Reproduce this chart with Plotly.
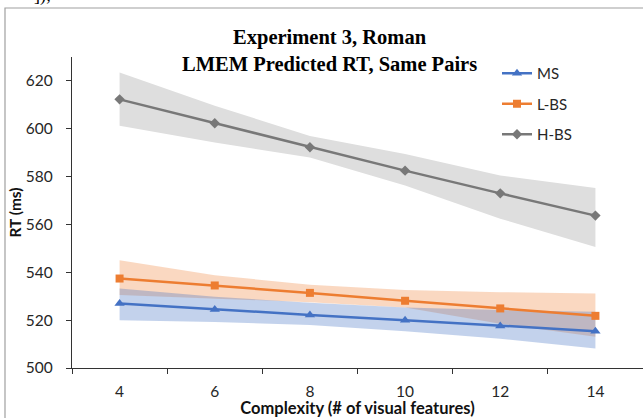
import plotly.graph_objects as go

complexity = [4, 6, 8, 10, 12, 14]

ms_rt = [527.0, 524.5, 522.2, 520.0, 517.6, 515.4]
ms_upper = [533.2, 529.8, 527.3, 525.3, 524.2, 523.5]
ms_lower = [520.0, 519.2, 518.0, 515.4, 512.2, 508.2]

lbs_rt = [537.4, 534.5, 531.4, 528.1, 524.9, 521.8]
lbs_upper = [545.0, 538.8, 534.8, 532.6, 531.7, 531.1]
lbs_lower = [530.5, 529.1, 527.5, 525.3, 518.5, 513.1]

hbs_rt = [612.3, 602.3, 592.3, 582.5, 573.0, 563.7]
hbs_upper = [623.5, 609.6, 597.0, 589.5, 580.5, 575.2]
hbs_lower = [601.3, 594.3, 588.0, 576.3, 562.4, 550.6]

y_ticks = [500, 520, 540, 560, 580, 600, 620]
x_ticks = [4, 6, 8, 10, 12, 14]
x_between = [3, 5, 7, 9, 11, 13]

W, H = 643, 418
L, R, T, B = 72, 0, 57, 50
pw, ph = W - L - R, H - T - B

def px(x):
    return (x - L) / pw

def py(y):
    return (H - B - y) / ph

fig = go.Figure()

def band(lower, upper, color):
    fig.add_trace(go.Scatter(x=complexity, y=lower, mode="lines", line=dict(width=0),
                             showlegend=False, hoverinfo="skip"))
    fig.add_trace(go.Scatter(x=complexity, y=upper, mode="lines", line=dict(width=0),
                             fill="tonexty", fillcolor=color, showlegend=False, hoverinfo="skip"))

band(hbs_lower, hbs_upper, "rgb(222,222,222)")
band(lbs_lower, lbs_upper, "rgba(237,125,49,0.30)")
band(ms_lower, ms_upper, "rgba(68,114,196,0.32)")

fig.add_trace(go.Scatter(x=complexity, y=hbs_rt, mode="lines+markers", name="H-BS",
                         legendgroup="c", legendrank=3,
                         line=dict(color="#787878", width=2.5),
                         marker=dict(symbol="diamond", size=8, color="#787878")))
fig.add_trace(go.Scatter(x=complexity, y=lbs_rt, mode="lines+markers", name="L-BS",
                         legendgroup="b", legendrank=2,
                         line=dict(color="#ED7D31", width=2.5),
                         marker=dict(symbol="square", size=8, color="#ED7D31")))
fig.add_trace(go.Scatter(x=complexity, y=ms_rt, mode="lines+markers", name="MS",
                         legendgroup="a", legendrank=1,
                         line=dict(color="#4472C4", width=2.5),
                         marker=dict(symbol="triangle-up", size=9, color="#4472C4")))

tick_font = dict(family="Lato", size=15.5, color="#262626")

fig.update_layout(
    width=W, height=H,
    margin=dict(l=L, r=R, t=T, b=B),
    paper_bgcolor="white", plot_bgcolor="white",
    showlegend=True,
    legend=dict(x=px(497), y=py(57), xanchor="left", yanchor="top",
                traceorder="grouped", tracegroupgap=8,
                font=dict(family="Lato", size=15, color="#262626"),
                bgcolor="rgba(0,0,0,0)", itemwidth=30),
    xaxis=dict(range=[3, 15], tickmode="array", tickvals=x_ticks,
               ticktext=[str(v) for v in x_ticks], ticks="",
               showline=True, linecolor="#333333", linewidth=1.2,
               showgrid=False, zeroline=False, tickfont=tick_font,
               ticklabelstandoff=9,
               minor=dict(tickmode="array", tickvals=x_between, ticks="outside",
                          ticklen=5, tickcolor="#333333", tickwidth=1.2, showgrid=False),
               title=dict(text="<b>Complexity (# of visual features)</b>",
                          font=dict(family="Lato", size=16.5, color="#111111"),
                          standoff=0)),
    yaxis=dict(range=[500, 630], tickmode="array", tickvals=y_ticks,
               ticks="outside", ticklen=5, tickcolor="#333333", tickwidth=1.2,
               showline=True, linecolor="#333333", linewidth=1.2,
               showgrid=False, zeroline=False, tickfont=tick_font,
               ticklabelstandoff=10,
               title=dict(text="<b>RT (ms)</b>",
                          font=dict(family="Lato", size=15.5, color="#111111"),
                          standoff=0)),
    shapes=[dict(type="rect", xref="paper", yref="paper",
                 x0=px(5), y0=py(470), x1=px(760), y1=py(8),
                 line=dict(color="#A0A0A0", width=1.2), fillcolor="rgba(0,0,0,0)",
                 layer="below")],
    annotations=[
        dict(text="<b>Experiment 3, Roman</b><br><b>LMEM Predicted RT, Same Pairs</b>",
             xref="paper", yref="paper", x=px(329), y=py(50), xanchor="center",
             yanchor="middle", showarrow=False, align="center",
             font=dict(family="Liberation Serif", size=20.5, color="#000000")),
        dict(text="]);", xref="paper", yref="paper", x=px(32), y=py(-4),
             xanchor="left", yanchor="middle", showarrow=False,
             font=dict(family="Liberation Serif", size=18, color="#000000")),
    ],
)

fig.write_html("out.html", config={"displayModeBar": False},
               post_script="document.body.style.margin='0';document.body.style.overflow='hidden';")
